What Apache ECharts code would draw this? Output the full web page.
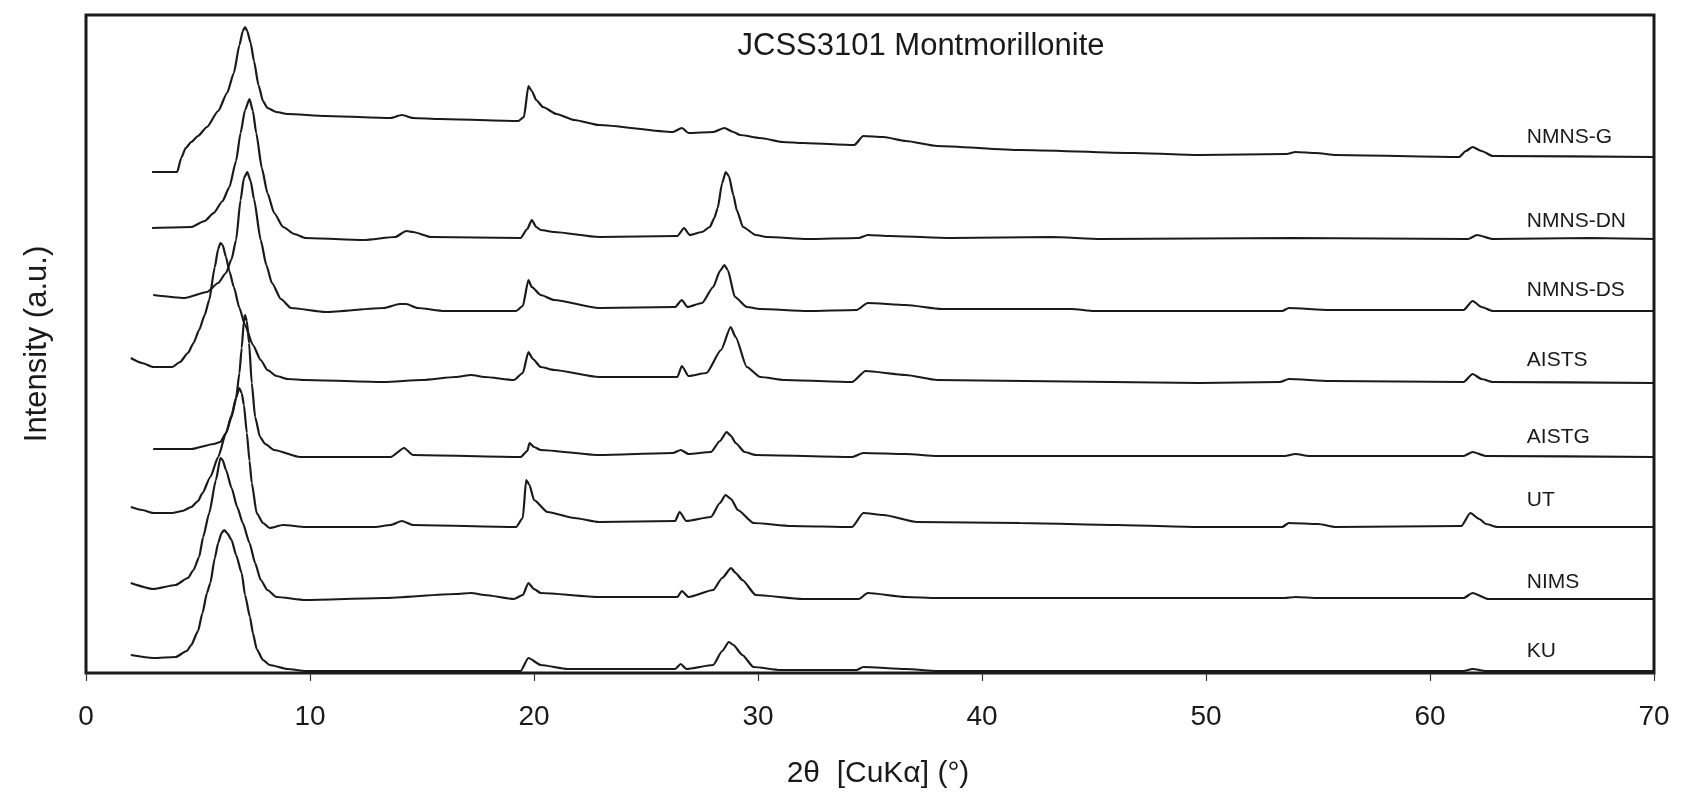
<!DOCTYPE html>
<html><head><meta charset="utf-8">
<script src="https://cdn.jsdelivr.net/npm/echarts@6/dist/echarts.min.js"></script>
<style>html,body{margin:0;padding:0;background:#fff}#c{width:1682px;height:806px}</style>
</head><body><div id="c"></div>
<script>
// Sample names (top to bottom)
const seriesNames = ['NMNS-G','NMNS-DN','NMNS-DS','AISTS','AISTG','UT','NIMS','KU'];
// [2theta (deg), stacked intensity (a.u.)]
const NMNS_G = [[2.95,501],[4.07,501],[4.25,515],[4.45,525],[4.7,531],[5.0,537],[5.4,546],[5.9,562],[6.3,580],[6.6,600],[6.85,628],[7.0,642],[7.1,646],[7.2,642],[7.35,630],[7.5,612],[7.7,588],[7.9,572],[8.1,565],[8.5,561],[9.0,559],[10.7,557],[13.6,555],[14.1,558],[14.6,555],[15.8,554],[19.3,552],[19.55,556],[19.75,587],[19.9,582],[20.1,573],[20.4,566],[21.0,559],[21.8,553],[22.9,548],[26.2,541],[26.6,545],[26.9,540],[28.0,541],[28.5,545],[28.9,541],[29.2,538],[30.1,535],[31.1,531],[32,530],[34.3,528],[34.7,537],[35.6,536],[36.6,532],[38,527],[41.7,523],[46.8,520],[49.7,518],[53.6,519],[54.0,521],[54.9,520],[55.8,518],[61.3,516],[61.6,522],[61.9,526],[62.3,522],[62.8,517],[70,516]];
const NMNS_DN = [[2.95,445],[4.7,446],[5.3,452],[5.7,460],[6.1,472],[6.4,486],[6.7,512],[6.9,540],[7.1,563],[7.3,574],[7.45,562],[7.6,540],[7.85,505],[8.1,480],[8.4,460],[8.8,446],[9.3,439],[9.8,435],[12.4,433],[13.8,436],[14.3,442],[14.6,441],[15.4,436],[19.4,435],[19.7,444],[19.9,453],[20.1,446],[20.3,443],[20.9,441],[22.9,436],[26.4,437],[26.7,445],[26.95,438],[27.5,441],[27.85,446],[28.05,455],[28.2,465],[28.4,490],[28.56,501],[28.7,497],[28.9,478],[29.05,463],[29.33,446],[29.9,438],[30.4,436],[32.2,434],[34.5,435],[34.9,438],[35.9,437],[38.6,435],[43.1,436],[45.3,434],[53.9,435],[61.7,434],[62.1,438],[62.8,434],[67.2,435],[70,434]];
const NMNS_DS = [[3.0,378],[4.4,375],[5.4,381],[5.9,390],[6.25,400],[6.5,414],[6.7,433],[6.9,473],[7.05,495],[7.2,501],[7.35,492],[7.5,474],[7.8,433],[8.05,408],[8.3,390],[8.7,374],[9.15,365],[10.7,361],[13.3,365],[14.0,369],[14.3,369],[14.8,365],[16.0,362],[19.2,362],[19.5,367],[19.75,393],[19.9,386],[20.3,378],[20.9,373],[22.9,365],[26.3,366],[26.6,373],[26.85,366],[27.5,370],[28.0,386],[28.3,402],[28.5,408],[28.65,403],[28.97,376],[29.5,366],[30.1,364],[32.2,362],[34.4,363],[34.9,370],[36.6,368],[38.2,364],[44,364],[45,362],[53.4,362],[53.7,365],[55.5,363],[61.5,363],[61.9,372],[62.3,366],[62.8,362],[70,362]];
const AISTS = [[2.0,315],[2.5,310],[3.0,306],[3.85,306],[4.2,311],[4.55,320],[4.8,330],[5.05,343],[5.3,358],[5.5,373],[5.75,406],[5.9,424],[6.0,430],[6.1,428],[6.25,416],[6.4,402],[6.6,386],[6.85,365],[7.1,348],[7.45,328],[7.8,313],[8.1,303],[8.5,297],[9.0,294],[9.8,293],[13.3,291],[15.0,293],[16.5,296],[17.2,298],[17.8,296],[19.1,293],[19.5,300],[19.75,321],[19.95,314],[20.3,306],[20.9,303],[22.9,296],[26.4,296],[26.6,307],[26.9,297],[27.7,300],[28.35,323],[28.78,346],[29.0,336],[29.5,306],[30.1,296],[31.2,293],[34.2,291],[34.8,302],[36.6,298],[38.0,293],[49.7,290],[53.3,291],[53.7,294],[55.5,292],[61.5,291],[61.9,299],[62.3,294],[62.8,291],[70,290]];
const AISTG = [[3.0,224],[4.7,224],[5.7,229],[6.0,231],[6.25,240],[6.5,256],[6.7,275],[6.85,300],[6.95,325],[7.05,352],[7.1,358],[7.18,352],[7.28,330],[7.4,290],[7.55,256],[7.77,236],[8.0,229],[8.4,223],[9.55,216],[13.6,216],[14.2,225],[14.6,218],[19.4,216],[19.7,222],[19.8,230],[20.0,226],[20.3,223],[22.9,218],[26.2,220],[26.55,223],[26.9,219],[27.9,221],[28.3,232],[28.6,241],[28.8,237],[29.0,230],[29.4,221],[29.9,218],[34.2,216],[34.7,220],[36.6,219],[38,217],[53.5,217],[54.0,219],[54.6,217],[61.5,217],[61.9,221],[62.5,217],[70,216]];
const UT = [[2.0,166],[2.5,163],[3.0,160],[3.85,160],[4.3,162],[4.7,166],[5.0,172],[5.2,180],[5.55,196],[5.9,216],[6.25,240],[6.5,258],[6.7,275],[6.84,285],[6.95,280],[7.05,268],[7.18,240],[7.3,212],[7.4,190],[7.62,160],[7.9,150],[8.2,145],[8.8,148],[9.8,146],[12.9,146],[13.6,148],[14.1,152],[14.6,148],[19.2,146],[19.5,155],[19.65,193],[19.8,188],[20.0,173],[20.6,161],[21.8,155],[22.9,151],[26.3,152],[26.5,161],[26.8,152],[27.9,156],[28.3,170],[28.55,178],[28.8,174],[29.1,163],[29.8,150],[31.5,147],[34.2,146],[34.7,160],[35.6,158],[37.1,151],[41.7,150],[46,148],[49.7,146],[53.4,146],[53.7,150],[55.0,149],[55.8,146],[61.4,147],[61.8,160],[62.2,154],[62.5,149],[63.0,146],[70,146]];
const NIMS = [[2.0,90],[3.0,84],[4.0,88],[4.55,95],[4.8,103],[5.05,116],[5.23,136],[5.5,160],[5.8,193],[6.0,215],[6.1,213],[6.25,203],[6.5,185],[6.75,166],[7.0,150],[7.3,130],[7.55,110],[7.8,93],[8.1,83],[8.5,76],[9.8,73],[13.3,75],[16.5,79],[17.2,80],[17.8,78],[19.1,74],[19.5,78],[19.75,90],[20.0,84],[20.3,80],[22.9,76],[26.4,76],[26.6,82],[26.9,76],[28.0,83],[28.4,95],[28.8,105],[29.0,100],[29.3,93],[29.9,78],[32,74],[34.5,74],[34.9,80],[36.6,76],[38,75],[53.5,75],[54.0,76],[55,75],[61.5,75],[61.9,80],[62.6,74],[70,74]];
const KU = [[2.0,18],[3.0,15],[4.0,16],[4.5,22],[4.7,28],[5.0,42],[5.2,60],[5.4,80],[5.55,90],[5.75,115],[5.9,130],[6.05,140],[6.17,143],[6.3,140],[6.5,133],[6.7,118],[6.95,100],[7.1,78],[7.32,56],[7.45,40],[7.62,24],[7.9,13],[8.2,8],[9.0,4],[9.8,2],[19.4,2],[19.75,15],[20.3,8],[21.5,4],[26.3,4],[26.55,9],[26.8,4],[28.0,8],[28.4,22],[28.7,31],[28.9,28],[29.3,18],[29.8,6],[31,3],[34.4,3],[34.7,6],[36.6,4],[38,2],[61.5,2],[61.9,4],[62.5,2],[70,2]];
// label anchors (data space)
const labelX = 64.3;
const labelY = [536, 452, 383, 313, 236, 173, 91, 22];

const allData = [NMNS_G, NMNS_DN, NMNS_DS, AISTS, AISTG, UT, NIMS, KU];
const FONT = 'Liberation Sans, Arial, sans-serif';
const INK = '#1a1a1a';
const chart = echarts.init(document.getElementById('c'));
chart.setOption({
  animation: false,
  backgroundColor: '#fff',
  title: {text: 'JCSS3101 Montmorillonite', left: 921, top: 31, textAlign: 'center', padding: 0,
    textStyle: {fontFamily: FONT, fontSize: 31, fontWeight: 'normal', color: INK}},
  grid: {left: 86, right: 28, top: 15, bottom: 133, show: true, borderColor: INK, borderWidth: 3, backgroundColor: 'transparent'},
  xAxis: {type: 'value', min: 0, max: 70, interval: 10,
    name: '2θ  [CuKα] (°)', nameLocation: 'middle', nameGap: 86,
    nameTextStyle: {fontFamily: FONT, fontSize: 30, color: INK, padding: [0, 0, 0, 16]},
    axisLine: {show: false},
    axisTick: {show: true, length: 8, inside: false, lineStyle: {color: '#333', width: 1.2}},
    axisLabel: {margin: 30, fontSize: 28, color: INK, fontFamily: FONT},
    splitLine: {show: false}},
  yAxis: {type: 'value', min: 0, max: 658,
    name: 'Intensity (a.u.)', nameLocation: 'middle', nameGap: 33,
    nameTextStyle: {fontFamily: FONT, fontSize: 31, color: INK},
    axisLine: {show: false}, axisTick: {show: false}, axisLabel: {show: false}, splitLine: {show: false}},
  series: allData.map((d, i) => ({
    type: 'line', name: seriesNames[i], data: d, showSymbol: false, silent: true,
    smooth: 0.2, smoothMonotone: 'x',
    lineStyle: {color: INK, width: 2.2},
    markPoint: {symbol: 'circle', symbolSize: 1, itemStyle: {color: 'rgba(0,0,0,0)'}, silent: true,
      label: {show: true, position: 'right', distance: 0, formatter: seriesNames[i],
        fontFamily: FONT, fontSize: 21, color: INK},
      data: [{coord: [labelX, labelY[i]]}]}
  }))
});
</script></body></html>
